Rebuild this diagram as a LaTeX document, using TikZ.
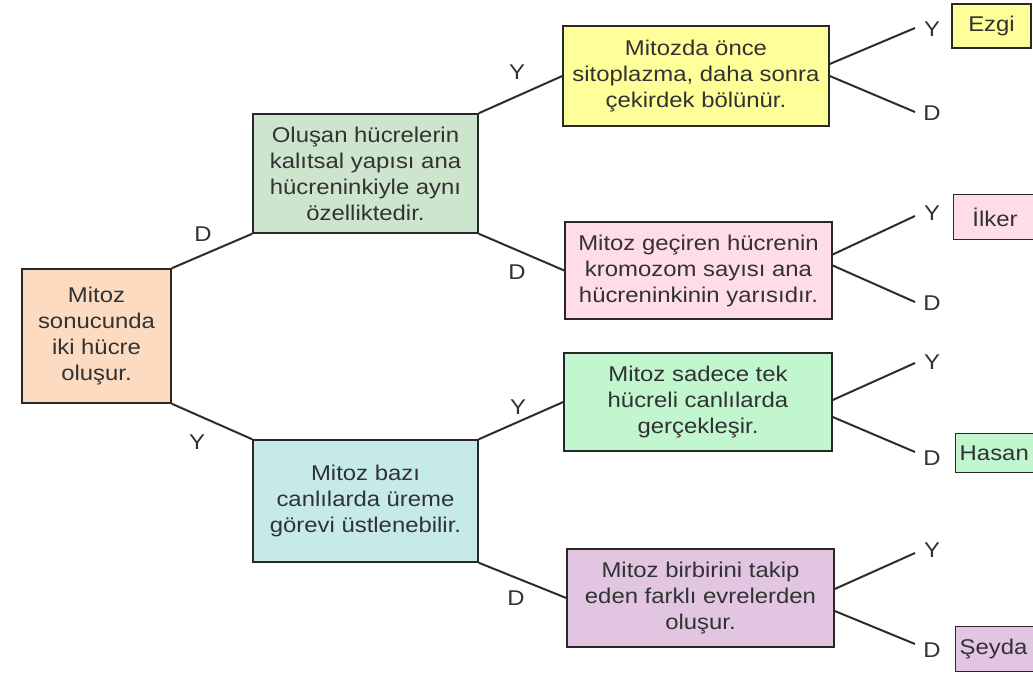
\documentclass[tikz,border=0pt]{standalone}
\usepackage{fontspec}
\setmainfont{Liberation Sans}[FakeStretch=1.12]
\usetikzlibrary{calc}
\definecolor{txt}{RGB}{50,50,50}
\definecolor{bord}{RGB}{40,40,40}
\definecolor{ln}{RGB}{45,45,45}
\definecolor{cpeach}{RGB}{252,219,192}
\definecolor{csage}{RGB}{205,229,205}
\definecolor{ccyan}{RGB}{198,234,234}
\definecolor{cyel}{RGB}{255,255,153}
\definecolor{cpink}{RGB}{255,221,232}
\definecolor{cmint}{RGB}{194,246,206}
\definecolor{cpurp}{RGB}{225,197,225}
\begin{document}
\begin{tikzpicture}[x=0.75pt,y=-0.75pt,
  box/.style={draw=bord, line width=1.1pt, align=center, text=txt, inner sep=0pt,
    font=\fontsize{16}{19.5}\selectfont},
  leafbox/.style={box, inner xsep=3pt},
  edge/.style={draw=ln, line width=1.5pt},
  lab/.style={text=txt, inner sep=0pt, font=\fontsize{16}{19.5}\selectfont}]
\clip (0,0) rectangle (1033,675);
\fill[white] (0,0) rectangle (1033,675);

% main boxes
\node[box, fill=cpeach, minimum width=111.75pt, minimum height=100.5pt] (root) at (96.5,336) {Mitoz\\sonucunda\\iki hücre\\oluşur.};
\node[box, fill=csage, minimum width=168.75pt, minimum height=89.25pt] (G) at (365.5,173.5) {Oluşan hücrelerin\\kalıtsal yapısı ana\\hücreninkiyle aynı\\özelliktedir.};
\node[box, fill=ccyan, minimum width=168.75pt, minimum height=91.5pt] (C) at (365.5,501) {Mitoz bazı\\canlılarda üreme\\görevi üstlenebilir.};
\node[box, fill=cyel, minimum width=199.5pt, minimum height=75pt] (Yb) at (696,76) {Mitozda önce\\sitoplazma, daha sonra\\çekirdek bölünür.};
\node[box, fill=cpink, minimum width=200.25pt, minimum height=72.75pt] (Pb) at (698.5,270.5) {Mitoz geçiren hücrenin\\kromozom sayısı ana\\hücreninkinin yarısıdır.};
\node[box, fill=cmint, minimum width=201pt, minimum height=73.5pt] (Mb) at (698,402) {Mitoz sadece tek\\hücreli canlılarda\\gerçekleşir.};
\node[box, fill=cpurp, minimum width=200.25pt, minimum height=73.5pt] (Vb) at (700.5,598) {Mitoz birbirini takip\\eden farklı evrelerden\\oluşur.};

% leaf boxes
\node[box, fill=cyel, minimum width=59.25pt, minimum height=33pt] (ezgi) at (991.5,26) {Ezgi};
\node[box, fill=cpink, anchor=north west, minimum height=33.75pt, inner xsep=14pt, text width=50pt, align=left] (ilker) at (953,194) {İlker};
\node[leafbox, fill=cmint, anchor=north west, minimum width=66pt, minimum height=29.25pt, text width=60pt, align=left] (hasan) at (955,433) {Hasan};
\node[leafbox, fill=cpurp, anchor=north west, minimum width=66pt, minimum height=33.75pt, text width=60pt, align=left] (seyda) at (955,626) {Şeyda};

% connectors between boxes
\draw[edge] (root.north east) -- (G.south west);
\draw[edge] (root.south east) -- (C.north west);
\draw[edge] (G.north east) -- (Yb.west);
\draw[edge] (G.south east) -- (Pb.west);
\draw[edge] (C.north east) -- (Mb.west);
\draw[edge] (C.south east) -- (Vb.west);

% free ends on the right
\coordinate (e1y) at (915,28);
\coordinate (e1d) at (915,112);
\coordinate (e2y) at (915,216);
\coordinate (e2d) at (915,302);
\coordinate (e3y) at (915,363);
\coordinate (e3d) at (915,452);
\coordinate (e4y) at (915,553);
\coordinate (e4d) at (915,644);

\draw[edge] ($(Yb.east)+(0,-12)$) -- (e1y);
\draw[edge] ($(Yb.east)+(0,0)$) -- (e1d);
\draw[edge] ($(Pb.east)+(0,-16)$) -- (e2y);
\draw[edge] ($(Pb.east)+(0,-5)$) -- (e2d);
\draw[edge] ($(Mb.east)+(0,-2)$) -- (e3y);
\draw[edge] ($(Mb.east)+(0,15)$) -- (e3d);
\draw[edge] ($(Vb.east)+(0,-9)$) -- (e4y);
\draw[edge] ($(Vb.east)+(0,13)$) -- (e4d);

% labels
\node[lab] (l1) at (203,234) {D};
\node[lab] (l2) at (197,442) {Y};
\node[lab] (l3) at (517,72) {Y};
\node[lab] (l4) at (517,272) {D};
\node[lab] (l5) at (518,407) {Y};
\node[lab] (l6) at (516,598) {D};
\node[lab] (r1) at (932,29) {Y};
\node[lab] (r2) at (932,113) {D};
\node[lab] (r3) at (932,213) {Y};
\node[lab] (r4) at (932,303) {D};
\node[lab] (r5) at (932,362) {Y};
\node[lab] (r6) at (932,458) {D};
\node[lab] (r7) at (932,550) {Y};
\node[lab] (r8) at (932,650) {D};
\end{tikzpicture}
\end{document}
